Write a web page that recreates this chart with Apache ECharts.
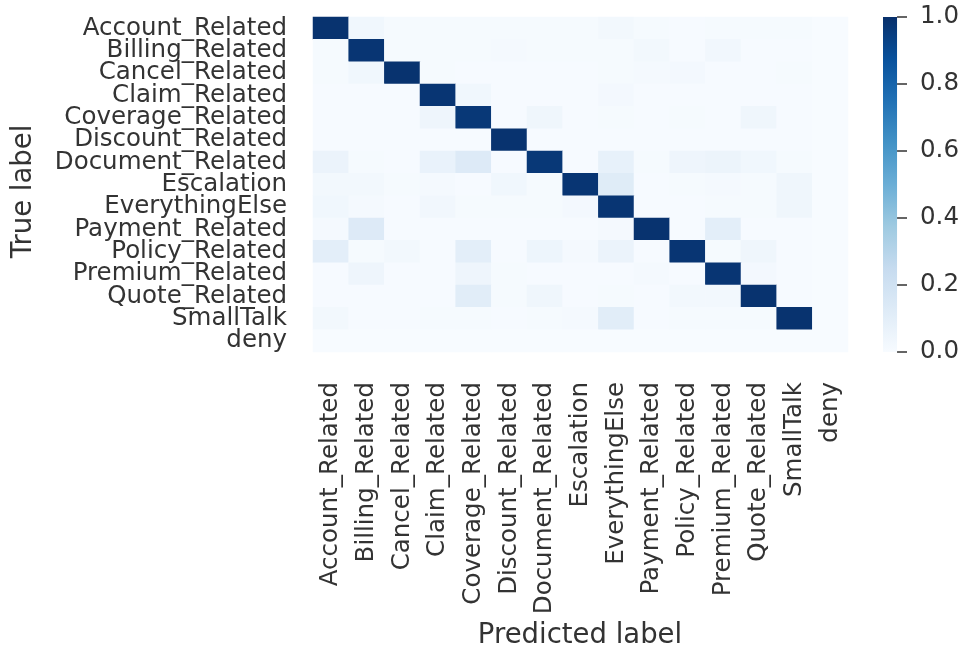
<!DOCTYPE html>
<html>
<head>
<meta charset="utf-8">
<script src="https://cdn.jsdelivr.net/npm/echarts@6/dist/echarts.min.js"></script>
<style>
html,body{margin:0;padding:0;background:#fff;}
#chart{width:962px;height:650px;}
</style>
</head>
<body>
<div id="chart"></div>
<script>
const categories = ['Account_Related','Billing_Related','Cancel_Related','Claim_Related','Coverage_Related','Discount_Related','Document_Related','Escalation','EverythingElse','Payment_Related','Policy_Related','Premium_Related','Quote_Related','SmallTalk','deny'];

// rows = true label, columns = predicted label (same order as categories)
const rowAccountRelated  = [0.99, 0.035, 0.01, 0.01, 0.01, 0.01, 0.01, 0.01, 0.025, 0.01, 0.005, 0.01, 0.01, 0.01, 0];
const rowBillingRelated  = [0.01, 0.98, 0.01, 0.01, 0.01, 0.015, 0.01, 0.01, 0.01, 0.025, 0.005, 0.03, 0.005, 0.005, 0];
const rowCancelRelated   = [0.01, 0.035, 0.99, 0.01, 0.005, 0.005, 0.005, 0.005, 0.01, 0.015, 0.02, 0.005, 0.005, 0.01, 0];
const rowClaimRelated    = [0.005, 0.005, 0.005, 0.98, 0.035, 0.005, 0.005, 0.005, 0.02, 0.005, 0.005, 0.005, 0.005, 0.005, 0];
const rowCoverageRelated = [0.005, 0.005, 0.005, 0.045, 0.97, 0.005, 0.04, 0.005, 0.01, 0.005, 0.01, 0.005, 0.04, 0.005, 0];
const rowDiscountRelated = [0.005, 0.005, 0.005, 0.005, 0.005, 0.99, 0.005, 0.005, 0.005, 0.005, 0.005, 0.005, 0.005, 0.005, 0];
const rowDocumentRelated = [0.06, 0.01, 0.005, 0.07, 0.13, 0.005, 0.97, 0.005, 0.08, 0.01, 0.045, 0.055, 0.035, 0.01, 0];
const rowEscalation      = [0.025, 0.025, 0.01, 0.015, 0.005, 0.035, 0.01, 0.98, 0.12, 0.005, 0.01, 0.015, 0.01, 0.04, 0];
const rowEverythingElse  = [0.035, 0.015, 0.005, 0.03, 0.01, 0.01, 0.01, 0.02, 0.98, 0.005, 0.005, 0.01, 0.01, 0.04, 0];
const rowPaymentRelated  = [0.015, 0.13, 0.005, 0.005, 0.005, 0.005, 0.005, 0.005, 0.015, 0.99, 0.005, 0.1, 0.005, 0.005, 0];
const rowPolicyRelated   = [0.1, 0.01, 0.025, 0.005, 0.1, 0.005, 0.05, 0.015, 0.06, 0.005, 0.98, 0.01, 0.04, 0.005, 0];
const rowPremiumRelated  = [0.005, 0.045, 0.005, 0.005, 0.045, 0.01, 0.005, 0.005, 0.005, 0.015, 0.005, 0.98, 0.02, 0.005, 0];
const rowQuoteRelated    = [0.005, 0.005, 0.005, 0.005, 0.11, 0.01, 0.04, 0.005, 0.01, 0.005, 0.025, 0.025, 0.99, 0.005, 0];
const rowSmallTalk       = [0.025, 0.005, 0.005, 0.01, 0.01, 0.005, 0.01, 0.015, 0.11, 0.005, 0.01, 0.01, 0.01, 0.99, 0];
const rowDeny            = [0, 0, 0, 0, 0, 0, 0, 0, 0, 0, 0, 0, 0, 0, 0];

const colorbarTicks = [0, 0.2, 0.4, 0.6, 0.8, 1.0];

const rows = [rowAccountRelated,rowBillingRelated,rowCancelRelated,rowClaimRelated,rowCoverageRelated,rowDiscountRelated,rowDocumentRelated,rowEscalation,rowEverythingElse,rowPaymentRelated,rowPolicyRelated,rowPremiumRelated,rowQuoteRelated,rowSmallTalk,rowDeny];

const heatData = [];
rows.forEach((r, yi) => r.forEach((v, xi) => heatData.push([xi, yi, v])));

const blues = ['#f7fbff','#deebf7','#c6dbef','#9ecae1','#6baed6','#4292c6','#2171b5','#08519c','#08306b'];
const FONT = 'DejaVu Sans';
const TXT = '#333333';

const chart = echarts.init(document.getElementById('chart'), null, {renderer:'canvas'});
chart.setOption({
  animation: false,
  backgroundColor: '#ffffff',
  textStyle: {fontFamily: FONT},
  grid: [
    {left: 313, top: 17, width: 535, height: 335, containLabel: false},
    {left: 883, top: 17, width: 17, height: 335, containLabel: false}
  ],
  xAxis: [
    {
      gridIndex: 0, type: 'category', data: categories,
      axisLine: {show: false}, axisTick: {show: false}, splitLine: {show: false},
      axisLabel: {rotate: 90, interval: 0, margin: 30, fontSize: 24.5, color: TXT, fontFamily: FONT}
    },
    {
      gridIndex: 1, type: 'category', data: [''],
      axisLine: {show: false}, axisTick: {show: false}, axisLabel: {show: false}, splitLine: {show: false}
    }
  ],
  yAxis: [
    {
      gridIndex: 0, type: 'category', data: categories, inverse: true,
      axisLine: {show: false}, axisTick: {show: false}, splitLine: {show: false},
      axisLabel: {interval: 0, margin: 26, fontSize: 24.5, color: TXT, fontFamily: FONT}
    },
    {
      gridIndex: 1, type: 'value', min: 0, max: 1, interval: 0.2, position: 'right',
      axisLine: {show: false}, splitLine: {show: false},
      axisTick: {show: true, length: 10, lineStyle: {color: TXT, width: 1.5}},
      axisLabel: {margin: 23, fontSize: 24.5, color: TXT, fontFamily: FONT,
        formatter: v => colorbarTicks.some(t => Math.abs(t - v) < 1e-9) ? v.toFixed(1) : ''}
    }
  ],
  visualMap: {
    show: false, type: 'continuous', min: 0, max: 1, seriesIndex: 0,
    inRange: {color: blues}
  },
  graphic: [
    {type: 'text', x: 23.5, y: 191.5, rotation: Math.PI / 2,
     style: {text: 'True label', fontSize: 27.5, fontFamily: FONT, fill: TXT, align: 'center', verticalAlign: 'middle'}},
    {type: 'text', x: 580, y: 636,
     style: {text: 'Predicted label', fontSize: 27.5, fontFamily: FONT, fill: TXT, align: 'center', verticalAlign: 'middle'}}
  ],
  series: [
    {
      type: 'heatmap', xAxisIndex: 0, yAxisIndex: 0, data: heatData,
      itemStyle: {borderWidth: 0},
      emphasis: {disabled: true}, label: {show: false}
    },
    {
      type: 'bar', xAxisIndex: 1, yAxisIndex: 1, data: [1], barWidth: '100%',
      silent: true,
      itemStyle: {
        color: new echarts.graphic.LinearGradient(0, 1, 0, 0,
          blues.map((c, i) => ({offset: i / (blues.length - 1), color: c})))
      }
    }
  ]
});
</script>
</body>
</html>
